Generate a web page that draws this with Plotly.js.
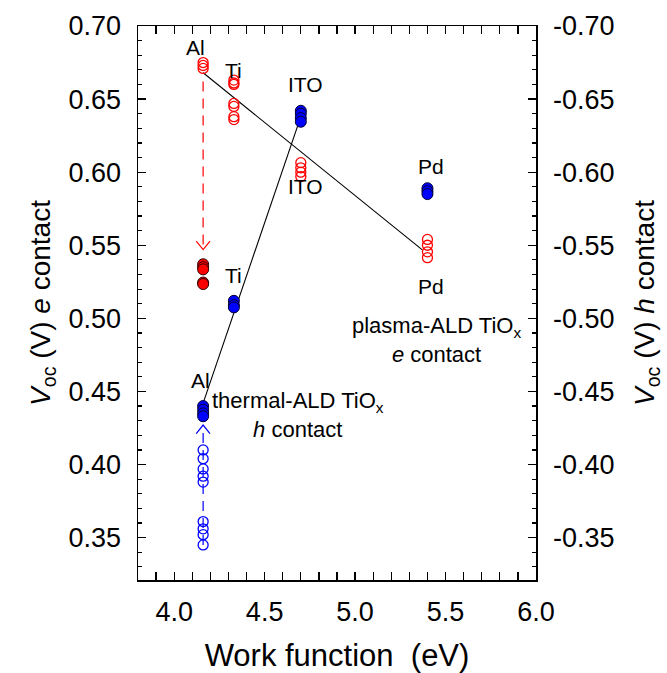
<!DOCTYPE html>
<html>
<head>
<meta charset="utf-8">
<script src="https://cdn.plot.ly/plotly-3.0.1.min.js"></script>
<style>html,body{margin:0;padding:0;background:#fff}#chart{width:667px;height:673px}</style>
</head>
<body>
<div id="chart"></div>
<script>
// ---- data ----
// work functions (eV) of the metals
const wfAl = 4.16, wfTi = 4.33, wfITO = 4.70, wfPd = 5.40;

// plasma-ALD TiOx, e contact, open red circles (left axis, V)
const eOpenX = [wfAl, wfAl, wfAl,
                wfTi, wfTi, wfTi, wfTi, wfTi, wfTi, wfTi,
                wfITO, wfITO, wfITO, wfITO,
                wfPd, wfPd, wfPd, wfPd];
const eOpenY = [0.675, 0.673, 0.671,
                0.663, 0.661, 0.660, 0.647, 0.645, 0.638, 0.636,
                0.6065, 0.603, 0.600, 0.597,
                0.554, 0.550, 0.5455, 0.5415];

// e contact, filled red circles at Al
const eFillX = [wfAl, wfAl, wfAl, wfAl, wfAl];
const eFillY = [0.537, 0.535, 0.5335, 0.5245, 0.5235];

// thermal-ALD TiOx, h contact, filled blue circles (right axis, V)
const hFillX = [wfAl, wfAl, wfAl, wfAl,
                wfTi, wfTi, wfTi,
                wfITO, wfITO, wfITO, wfITO,
                wfPd, wfPd, wfPd];
const hFillY = [-0.440, -0.4375, -0.435, -0.433,
                -0.512, -0.509, -0.5075,
                -0.642, -0.640, -0.637, -0.6345,
                -0.589, -0.587, -0.585];

// h contact, open blue circles at Al
const hOpenX = [wfAl, wfAl, wfAl, wfAl, wfAl, wfAl, wfAl, wfAl, wfAl];
const hOpenY = [-0.410, -0.404, -0.397, -0.392, -0.388, -0.361, -0.356, -0.352, -0.345];

// linear trend lines (end points)
const eFitX = [4.16, 5.37];
const eFitY = [0.668, 0.547];
const hFitX = [4.16, 4.70];
const hFitY = [-0.442, -0.638];

// dashed arrows (start -> tip)
const eArrowX = [wfAl, wfAl];
const eArrowY = [0.662, 0.547];
const hArrowX = [wfAl, wfAl];
const hArrowY = [-0.345, -0.427];

// metal labels
const metalLabels = ['Al', 'Ti', 'ITO', 'ITO', 'Pd', 'Pd', 'Ti', 'Al'];

// right-axis tick values and labels
const hTickVals = [-0.70, -0.65, -0.60, -0.55, -0.50, -0.45, -0.40, -0.35];
const hTickText = ['-0.70', '-0.65', '-0.60', '-0.55', '-0.50', '-0.45', '-0.40', '-0.35'];

// ---- styling ----
const FONT = 'Arial, "Liberation Sans", sans-serif';
const RED = '#ff0000', BLUE = '#0000ff';

const traces = [
  {x: eFitX, y: eFitY, mode: 'lines', line: {color: '#000', width: 1.1}, yaxis: 'y', hoverinfo: 'skip'},
  {x: hFitX, y: hFitY, mode: 'lines', line: {color: '#000', width: 1.1}, yaxis: 'y2', hoverinfo: 'skip'},
  {x: eArrowX, y: eArrowY, mode: 'lines', line: {color: RED, width: 1.2, dash: '10px,7px'}, yaxis: 'y'},
  {x: hArrowX, y: hArrowY, mode: 'lines', line: {color: BLUE, width: 1.2, dash: '10px,7px'}, yaxis: 'y2'},
  {x: eOpenX, y: eOpenY, mode: 'markers', yaxis: 'y',
   marker: {symbol: 'circle-open', size: 10, color: RED, line: {width: 1.3, color: RED}}},
  {x: eFillX, y: eFillY, mode: 'markers', yaxis: 'y',
   marker: {symbol: 'circle', size: 11, color: RED, line: {width: 1, color: '#300000'}}},
  {x: hOpenX, y: hOpenY, mode: 'markers', yaxis: 'y2',
   marker: {symbol: 'circle-open', size: 10, color: BLUE, line: {width: 1.3, color: BLUE}}},
  {x: hFillX, y: hFillY, mode: 'markers', yaxis: 'y2',
   marker: {symbol: 'circle', size: 11, color: BLUE, line: {width: 1, color: '#000030'}}}
];

// chevron arrow heads, built from the arrow tips
function chevron(ax, ay, halfW, len) {
  const tipX = ax[1], tipY = ay[1];
  const dir = Math.sign(ay[0] - ay[1]);
  const backY = tipY + dir * len;
  return 'M ' + (tipX - halfW) + ',' + backY + ' L ' + tipX + ',' + tipY + ' L ' + (tipX + halfW) + ',' + backY;
}

const shapes = [
  {type: 'path', xref: 'x', yref: 'y', path: chevron(eArrowX, eArrowY, 0.038, 0.0058), line: {color: RED, width: 1.2}},
  {type: 'path', xref: 'x', yref: 'y2', path: chevron(hArrowX, hArrowY, 0.038, 0.0058), line: {color: BLUE, width: 1.2}}
];

const labelPos = [
  [4.120, 0.6856], [4.330, 0.6695], [4.728, 0.6603], [4.728, 0.5899],
  [5.419, 0.6037], [5.419, 0.5215], [4.330, 0.5290], [4.143, 0.4572]
];
const annotations = metalLabels.map((t, i) => ({
  text: t, x: labelPos[i][0], y: labelPos[i][1], xref: 'x', yref: 'y',
  showarrow: false, xanchor: 'center', yanchor: 'middle',
  font: {family: FONT, size: 21, color: '#000'}
}));
annotations.push({
  text: 'plasma-ALD TiO<sub>x</sub><br><i>e</i> contact', x: 5.452, y: 0.4850, xref: 'x', yref: 'y',
  showarrow: false, align: 'center', xanchor: 'center', yanchor: 'middle',
  font: {family: FONT, size: 22, color: '#000'}
});
annotations.push({
  text: 'thermal-ALD TiO<sub>x</sub><br><i>h</i> contact', x: 4.684, y: 0.434, xref: 'x', yref: 'y',
  showarrow: false, align: 'center', xanchor: 'center', yanchor: 'middle',
  font: {family: FONT, size: 22, color: '#000'}
});

const axisCommon = {
  showgrid: false, zeroline: false, showline: true, linecolor: '#000', linewidth: 1.5,
  ticks: 'inside', ticklen: 8, tickwidth: 1.2, tickcolor: '#000',
  tickfont: {family: FONT, size: 27, color: '#000'}
};

const layout = {
  width: 667, height: 673,
  margin: {l: 138, r: 131, t: 26, b: 93},
  paper_bgcolor: '#fff', plot_bgcolor: '#fff',
  showlegend: false,
  font: {family: FONT, color: '#000'},
  xaxis: Object.assign({}, axisCommon, {
    range: [3.8, 6.0], dtick: 0.5, tick0: 0, tickformat: '.1f', mirror: 'allticks',
    ticklabelstandoff: 7,
    minor: {ticks: 'inside', dtick: 0.1, ticklen: 4, tickwidth: 1.2, tickcolor: '#000', showgrid: false},
    title: {text: 'Work function  (eV)', font: {family: FONT, size: 31, color: '#000'}, standoff: 22}
  }),
  yaxis: Object.assign({}, axisCommon, {
    range: [0.321, 0.70], dtick: 0.05, tick0: 0, tickformat: '.2f', mirror: true,
    ticklabelstandoff: 10,
    minor: {ticks: 'inside', dtick: 0.01, ticklen: 4, tickwidth: 1.2, tickcolor: '#000', showgrid: false},
    title: {text: '<i>V</i><sub>oc</sub> (V) <i>e</i> contact', font: {family: FONT, size: 28, color: '#000'}, standoff: 9}
  }),
  yaxis2: Object.assign({}, axisCommon, {
    overlaying: 'y', side: 'right',
    range: [-0.321, -0.70], tickmode: 'array', tickvals: hTickVals, ticktext: hTickText,
    ticklabelstandoff: 10,
    minor: {ticks: 'inside', dtick: 0.01, tick0: 0, ticklen: 4, tickwidth: 1.2, tickcolor: '#000', showgrid: false},
    title: {text: '<i>V</i><sub>oc</sub> (V) <i>h</i> contact', font: {family: FONT, size: 28, color: '#000'}, standoff: 21}
  }),
  shapes: shapes,
  annotations: annotations
};

Plotly.newPlot('chart', traces, layout, {displayModeBar: false, staticPlot: true});
</script>
</body>
</html>
